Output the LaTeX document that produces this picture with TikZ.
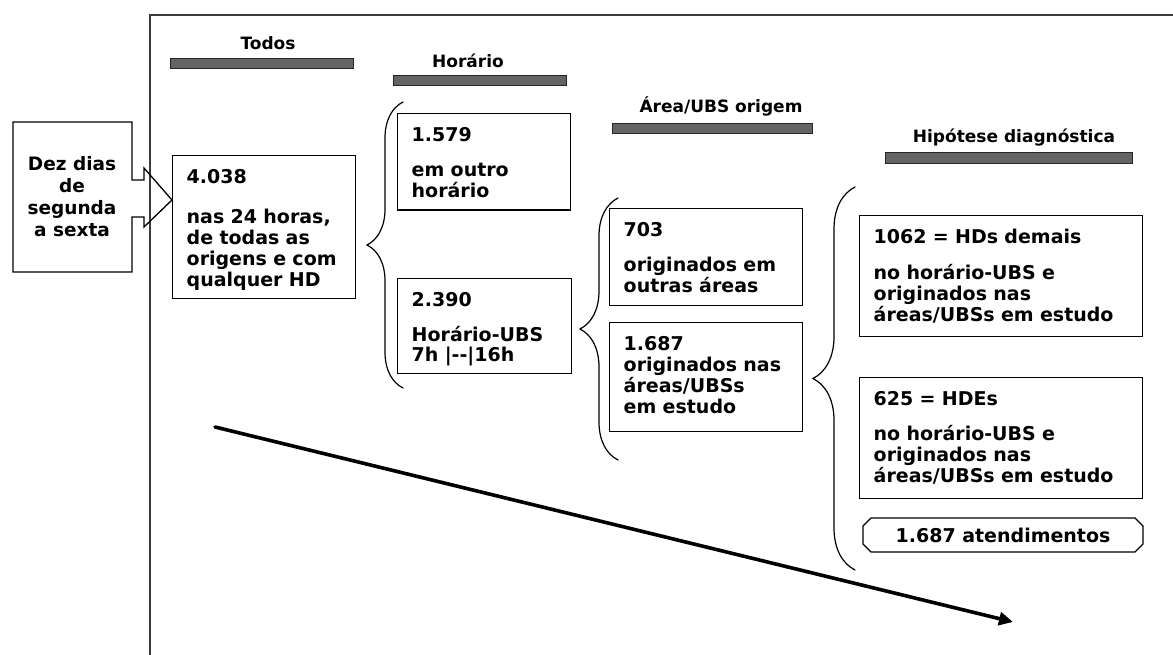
\documentclass[tikz,border=0pt]{standalone}
\usepackage{fontspec}
\setmainfont{DejaVu Sans}
\usetikzlibrary{arrows.meta,decorations.pathreplacing,shapes.misc,positioning}
\definecolor{barfill}{RGB}{100,100,100}
\definecolor{framegray}{RGB}{60,60,60}

\begin{document}
\begin{tikzpicture}[x=1pt,y=-1pt,line cap=round,
  font=\bfseries\fontsize{19}{21}\selectfont,
  every node/.style={inner sep=0pt},
  databox/.style={draw,line width=1.4pt,anchor=north west,align=left,
    inner xsep=14pt,inner ysep=0pt,text height=27.5pt},
  headbar/.style={draw=black!85,line width=0.8pt,fill=barfill,anchor=north west,minimum height=10pt},
  headlabel/.style={anchor=base,font=\bfseries\fontsize{17}{20}\selectfont},
  bracemark/.style={decorate,decoration={brace,amplitude=#1},line width=1.2pt}]
\useasboundingbox (0,0) rectangle (1173,655);
% frame
\draw[line width=1.3pt,framegray] (150,660) -- (150,15) -- (1180,15);
% column headers
\node[headbar,minimum width=183pt] (todosbar) at (170,58) {};
\node[headlabel] (todoslab) at (268,50) {Todos};
\node[headbar,minimum width=173pt] (horbar) at (393,75) {};
\node[headlabel] (horlab) at (468,68) {Horário};
\node[headbar,minimum width=200pt] (areabar) at (612,123) {};
\node[headlabel] (arealab) at (721,113) {Área/UBS origem};
\node[headbar,minimum width=247pt,minimum height=11pt] (hipbar) at (885,152) {};
\node[headlabel] (hiplab) at (1014,143) {Hipótese diagnóstica};
% callout
\draw[line width=1.3pt,line join=miter] (13,122) -- (132,122) -- (132,180) -- (144,180) -- (144,168)
  -- (172,200) -- (144,227) -- (144,217) -- (132,217) -- (132,272) -- (13,272) -- cycle;
\node[align=center,font=\bfseries\fontsize{18.5}{22}\selectfont] (dias) at (72,197) {Dez dias\\de\\segunda\\a sexta};
% boxes
\node[databox,text width=155pt,text depth=115pt] (todos) at (172,155)
  {4.038\\[19pt]nas 24 horas,\\de todas as\\origens e com\\qualquer HD};
\node[databox,text width=145pt,text depth=69pt] (outro) at (397,113)
  {1.579\\[14pt]em outro\\horário};
\node[databox,text width=146pt,text depth=67pt] (ubshor) at (397,278)
  {2.390\\[14pt]Horário-UBS\\[-1pt]7h |-{}-|16h};
\node[databox,text width=165pt,text depth=69pt] (outras) at (609,208)
  {703\\[14pt]originados em\\outras áreas};
\node[databox,text width=165pt,text depth=81pt] (estudo) at (609,322)
  {1.687\\originados nas\\áreas/UBSs\\em estudo};
\node[databox,text width=255pt,text depth=93pt] (demais) at (859,215)
  {1062 = HDs demais\\[15pt]no horário-UBS e\\originados nas\\áreas/UBSs em estudo};
\node[databox,text width=255pt,text depth=93pt] (hde) at (859,377)
  {625 = HDEs\\[14pt]no horário-UBS e\\originados nas\\áreas/UBSs em estudo};
\node[draw,line width=1.3pt,chamfered rectangle,chamfered rectangle xsep=4pt,chamfered rectangle ysep=4pt,
  minimum width=280pt,minimum height=34pt] (total) at (1003,535) {1.687 atendimentos};
% braces
\draw[bracemark=36pt] (403,388) -- (403,102);
\draw[bracemark=38pt] (618,460) -- (618,198);
\draw[bracemark=42pt] (855,570) -- (855,187);
% trend arrow
\coordinate (trendstart) at (215,427);
\coordinate (trendend) at (1013,622);
\draw[line width=3.6pt,-{Triangle[length=14pt,width=13pt]}] (trendstart) -- (trendend);
\end{tikzpicture}
\end{document}
